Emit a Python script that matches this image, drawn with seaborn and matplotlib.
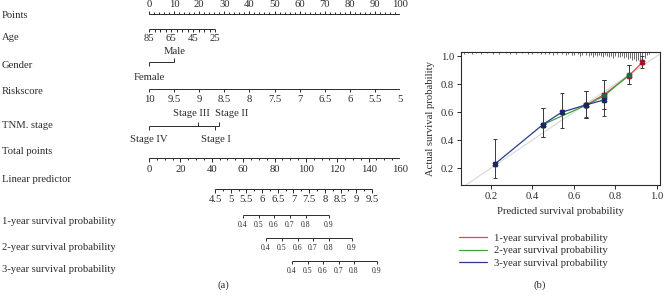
import numpy as np
import pandas as pd
import seaborn as sns
import matplotlib.pyplot as plt
from matplotlib.transforms import blended_transform_factory

# ---------------- nomogram data (a) ----------------
row_names = ["Points", "Age", "Gender", "Riskscore", "TNM. stage", "Total points",
             "Linear predictor", "1-year survival probability",
             "2-year survival probability", "3-year survival probability"]

points_major = np.arange(0, 101, 10)
points_minor = np.arange(0, 101, 2)

age_ticks = np.arange(85, 24, -5)
age_labels = [85, 65, 45, 25]
age_span = (85, 25)          # age values at the ends of the scale
age_points = (0, 26.3)       # points for those ends

gender_levels = ["Female", "Male"]
gender_points = [0, 10]

risk_ticks = [10, 9.5, 9, 8.5, 8, 7.5, 7, 6.5, 6, 5.5, 5]
risk_span = (10, 5)
risk_points = (0, 100)

stage_levels = ["Stage IV", "Stage III", "Stage I", "Stage II"]
stage_points = [0, 19.5, 26.3, 27.9]

total_labels = np.arange(0, 161, 20)
total_minor = np.arange(0, 161, 5)
total_max = 160

lp_labels = [4.5, 5, 5.5, 6, 6.5, 7, 7.5, 8, 8.5, 9, 9.5]
lp_minor = np.arange(4.5, 9.51, 0.25)
lp_span = (4.5, 9.5)
lp_total = (42.1, 142.1)

surv_labels = ["0.4", "0.5", "0.6", "0.7", "0.8", "0.9"]
surv1_total = [59.9, 70.1, 79.7, 89.9, 100.1, 114.7]
surv2_total = [74.6, 84.8, 95.0, 104.5, 114.7, 129.4]
surv3_total = [91.1, 101.3, 110.9, 121.1, 130.7, 145.3]

# ---------------- calibration data (b) ----------------
cal_names = ["1-year survival probability", "2-year survival probability",
             "3-year survival probability"]
y1_pred = [0.66, 0.745, 0.865, 0.93]
y1_obs = [0.65, 0.725, 0.86, 0.955]
y1_lo = [0.56, 0.62, 0.80, 0.917]
y1_hi = [0.75, 0.83, 0.935, 1.0]
y2_pred = [0.45, 0.66, 0.745, 0.865]
y2_obs = [0.51, 0.65, 0.715, 0.865]
y2_lo = [0.42, 0.56, 0.62, 0.80]
y2_hi = [0.63, 0.75, 0.83, 0.935]
y3_pred = [0.22, 0.45, 0.54, 0.66, 0.745]
y3_obs = [0.23, 0.51, 0.598, 0.652, 0.686]
y3_lo = [0.13, 0.42, 0.488, 0.562, 0.57]
y3_hi = [0.41, 0.628, 0.738, 0.748, 0.83]

rug_pred = [0.07, 0.09, 0.11, 0.13, 0.15, 0.18, 0.21, 0.24, 0.27, 0.29, 0.32, 0.35,
            0.38, 0.40, 0.42, 0.44, 0.46, 0.48, 0.50, 0.52, 0.54, 0.56, 0.57, 0.59,
            0.60, 0.62, 0.63, 0.64, 0.66, 0.67, 0.68, 0.69, 0.70, 0.71, 0.72, 0.73,
            0.74, 0.75, 0.76, 0.77, 0.78, 0.79, 0.80, 0.81, 0.82, 0.83, 0.84, 0.85,
            0.86, 0.87, 0.88, 0.89, 0.90, 0.91, 0.92, 0.93, 0.94, 0.95, 0.96]
rug_len = [2, 1, 2, 1, 2, 1, 2, 2, 1, 2, 2, 1,
           2, 2, 1, 2, 2, 2, 3, 2, 2, 3, 2, 3,
           3, 2, 4, 3, 3, 4, 3, 5, 3, 4, 3, 4,
           5, 3, 4, 5, 4, 6, 4, 5, 5, 4, 6, 5,
           7, 6, 8, 7, 9, 8, 8, 7, 6, 3, 2]

# ---------------- figure ----------------
sns.set_theme(style="white")
plt.rcParams['font.family'] = ['Liberation Serif', 'DejaVu Serif']
ink = "#2b2b2b"
fs = 7.7

fig = plt.figure(figsize=(6.64, 2.96), dpi=100)

# nomogram axes: x in points (0-100), y in pixel rows
ax = fig.add_axes([149 / 664, 0, 251 / 664, 1])
ax.set_xlim(0, 100)
ax.set_ylim(296, 0)
ax.axis("off")

row_y = [15, 37, 66, 92, 126, 151, 180, 222, 247, 270]
lab_tf = blended_transform_factory(fig.transFigure, ax.transData)
for name, y in zip(row_names, row_y):
    ax.text(2 / 664, y, name, transform=lab_tf, fontsize=fs, va="center", ha="left", color=ink)


def lin(v, v0, v1, p0, p1):
    return p0 + (np.asarray(v, dtype=float) - v0) * (p1 - p0) / (v1 - v0)


def to_pts(total):
    return np.asarray(total, dtype=float) * 100 / total_max


def scale(y, xs, tick_dir=1, tick_len=3.0, lw=0.7):
    xs = np.asarray(xs, dtype=float)
    ax.hlines(y, xs.min(), xs.max(), color=ink, lw=lw)
    ax.vlines(xs, y, y + tick_dir * tick_len, color=ink, lw=lw)


def labels(y, xs, texts, size=fs):
    for x, t in zip(xs, texts):
        ax.text(x, y, t, fontsize=size, ha="center", va="center", color=ink, clip_on=False)


# Points
scale(14, points_minor, tick_dir=-1, tick_len=2.0)
ax.vlines(points_major, 14, 10.5, color=ink, lw=0.7)
labels(4.5, points_major, [str(v) for v in points_major])

# Age
scale(29, lin(age_ticks, *age_span, *age_points), tick_dir=1, tick_len=3)
labels(38.5, lin(age_labels, *age_span, *age_points), [str(v) for v in age_labels])

# Gender
ax.hlines(62, min(gender_points), max(gender_points), color=ink, lw=0.7)
ax.vlines(gender_points[0], 62, 66, color=ink, lw=0.7)
ax.vlines(gender_points[1], 62, 58, color=ink, lw=0.7)
ax.text(gender_points[1], 52, gender_levels[1], fontsize=fs, ha="center", va="center", color=ink)
ax.text(gender_points[0], 77, gender_levels[0], fontsize=fs, ha="center", va="center", color=ink)

# Riskscore
risk_x = lin(risk_ticks, *risk_span, *risk_points)
scale(89, risk_x, tick_dir=1, tick_len=3)
labels(99, risk_x, [f"{v:g}" for v in risk_ticks])

# TNM stage
ax.hlines(126, min(stage_points), max(stage_points), color=ink, lw=0.7)
stage_above = [False, True, False, True]
stage_text_x = [0, 17.1, 26.7, 33.0]
for p, lvl, up, tx in zip(stage_points, stage_levels, stage_above, stage_text_x):
    ax.vlines(p, 126, 122 if up else 130, color=ink, lw=0.7)
    ax.text(tx, 114 if up else 139, lvl, fontsize=fs, ha="center", va="center", color=ink)

# Total points
scale(158, to_pts(total_minor), tick_dir=1, tick_len=2.0)
ax.vlines(to_pts(total_labels), 158, 161.5, color=ink, lw=0.7)
labels(169, to_pts(total_labels), [str(v) for v in total_labels])

# Linear predictor
lp_x = to_pts(lin(lp_minor, *lp_span, *lp_total))
scale(189, lp_x, tick_dir=1, tick_len=2.0)
lp_major = to_pts(lin(lp_labels, *lp_span, *lp_total))
ax.vlines(lp_major, 189, 192.5, color=ink, lw=0.7)
labels(199, lp_major, [f"{v:g}" for v in lp_labels])

# survival probability scales
for ly, tot in zip([215, 238, 261], [surv1_total, surv2_total, surv3_total]):
    sx = to_pts(tot)
    scale(ly, sx, tick_dir=1, tick_len=3)
    labels(ly + 10, sx, surv_labels, size=5.6)

ax.text(29.5, 285, "(a)", fontsize=fs, ha="center", va="center", color=ink)

# ---------------- calibration plot ----------------
bx = fig.add_axes([461 / 664, (296 - 185) / 296, 199 / 664, 133 / 296])
bx.set_xlim(0.0554, 1.0145)
bx.set_ylim(0.0786, 1.0286)

rows = []
for name, pr, ob, lo, hi in zip(cal_names,
                                [y1_pred, y2_pred, y3_pred],
                                [y1_obs, y2_obs, y3_obs],
                                [y1_lo, y2_lo, y3_lo],
                                [y1_hi, y2_hi, y3_hi]):
    for a, b, c, d in zip(pr, ob, lo, hi):
        rows.append({"curve": name, "predicted": a, "observed": b, "lower": c, "upper": d})
cal = pd.DataFrame(rows)

line_cols = {cal_names[0]: "#e8454a", cal_names[1]: "#3fa33f", cal_names[2]: "#2c3a8e"}
mark_cols = {cal_names[0]: "#a3102a", cal_names[1]: "#1f6a48", cal_names[2]: "#1b2466"}

bx.axline((0, 0), slope=1, color="#d8d8d8", lw=0.8, zorder=1)

sns.lineplot(data=cal, x="predicted", y="observed", hue="curve", palette=line_cols,
             estimator=None, sort=True, lw=0.9, ax=bx, zorder=2)

for name in cal_names:
    d = cal[cal["curve"] == name]
    bx.errorbar(d["predicted"], d["observed"],
                yerr=[d["observed"] - d["lower"], d["upper"] - d["observed"]],
                fmt="none", ecolor="#3a3a3a", elinewidth=0.7, capsize=1.6, capthick=0.7, zorder=3)
    bx.plot(d["predicted"], d["observed"], ls="none", marker="X", ms=3.4,
            color=mark_cols[name], zorder=4)

rug_tf = blended_transform_factory(bx.transData, bx.transAxes)
bx.vlines(rug_pred, 1, 1 - np.asarray(rug_len) / 133, color="#555555", lw=0.6, transform=rug_tf)

for s in bx.spines.values():
    s.set_color(ink)
    s.set_linewidth(0.8)
bx.set_xticks([0.2, 0.4, 0.6, 0.8, 1.0])
bx.set_yticks([0.2, 0.4, 0.6, 0.8, 1.0])
bx.set_xticklabels(["0.2", "0.4", "0.6", "0.8", "1.0"])
bx.set_yticklabels(["0.2", "0.4", "0.6", "0.8", "1.0"])
bx.tick_params(axis="both", direction="out", length=3, width=0.7, color=ink,
               labelsize=fs, labelcolor=ink, pad=2, bottom=True, left=True)
bx.set_xlabel("Predicted survival probability", fontsize=fs, color=ink, labelpad=4)
bx.set_ylabel("Actual survival probability", fontsize=fs, color=ink, labelpad=4)

leg = bx.legend(loc="upper left", bbox_to_anchor=(-0.03, -0.33), frameon=False,
                fontsize=fs, handlelength=2.6, handletextpad=0.6, labelspacing=0.3,
                borderaxespad=0)
for t in leg.get_texts():
    t.set_color(ink)

fig.text(540 / 664, 1 - 285 / 296, "(b)", fontsize=fs, ha="center", va="center", color=ink)

fig.savefig("out.png", dpi=100)
